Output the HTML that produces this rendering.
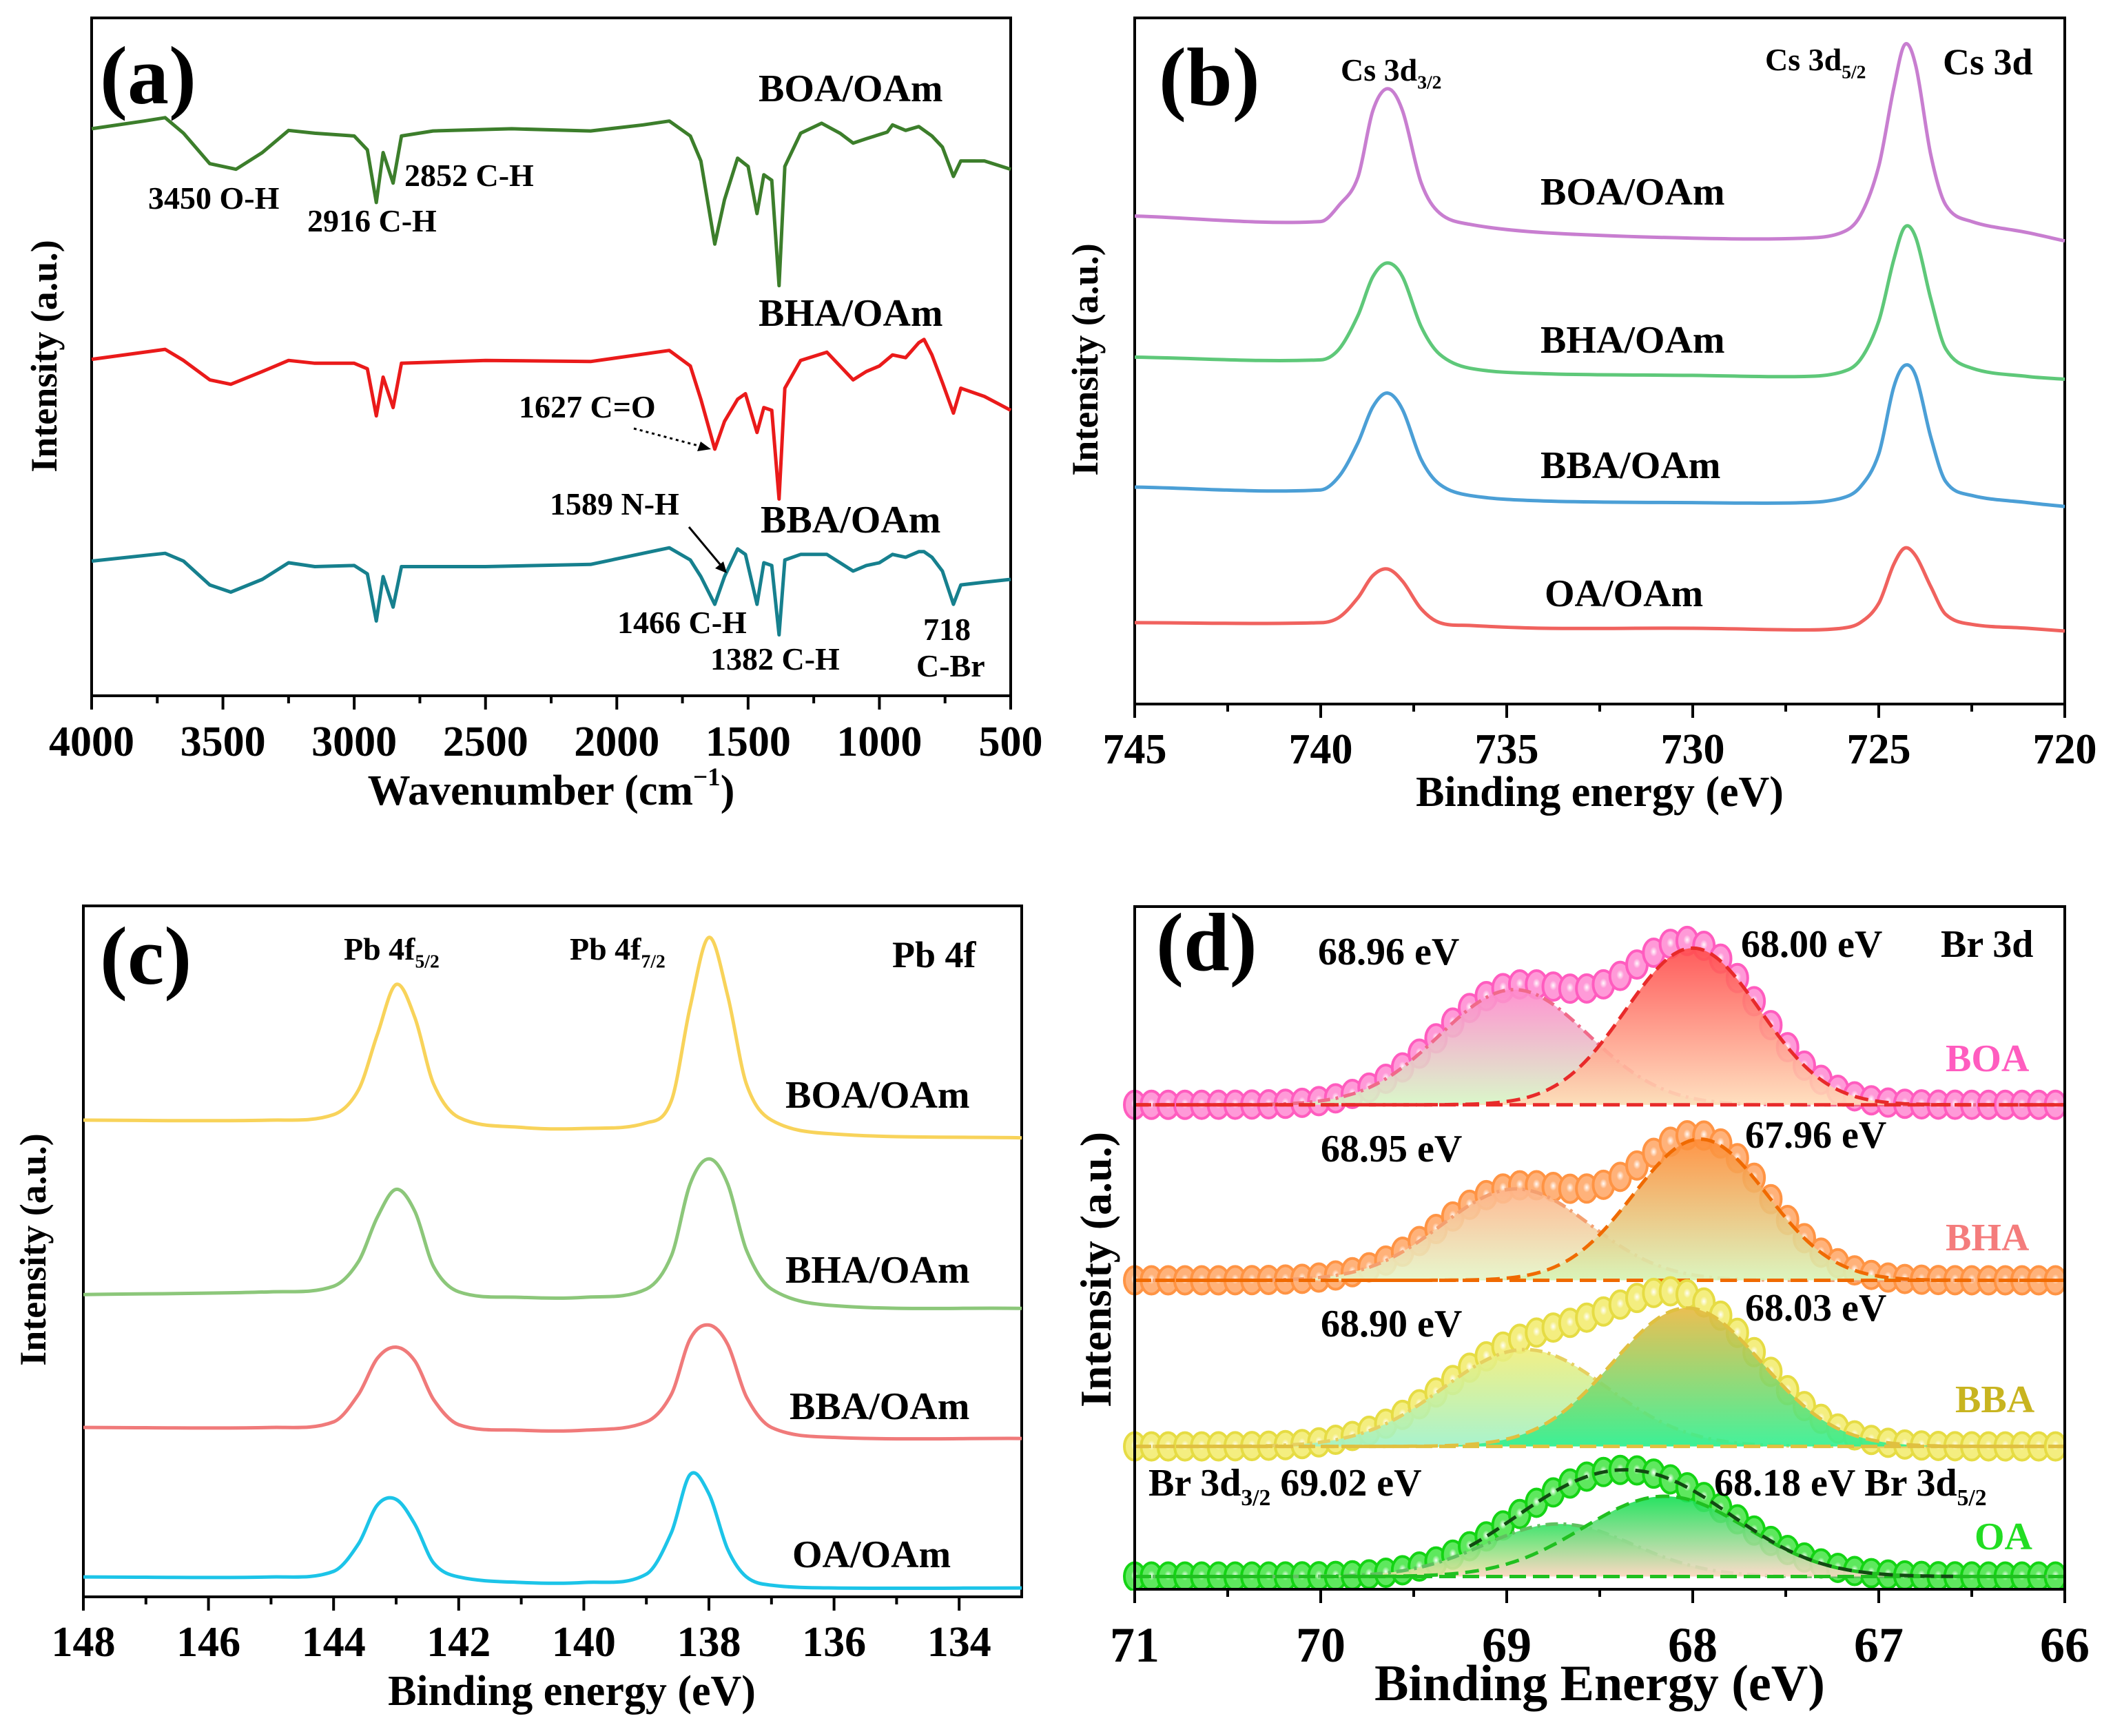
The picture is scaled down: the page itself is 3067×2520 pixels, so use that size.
<!DOCTYPE html>
<html><head><meta charset="utf-8"><style>
html,body{margin:0;padding:0;background:#fff;}
svg{display:block;font-family:"Liberation Serif",serif;font-weight:bold;}
</style></head><body>
<svg id="fig" width="3067" height="2520" viewBox="0 0 3067 2520" xmlns="http://www.w3.org/2000/svg">
<defs id="defs"></defs>
</svg>
<script>
// ---------- Panel (a) FTIR data ----------
const wnBOA = [4000,3800,3720,3650,3550,3450,3350,3250,3150,3000,2950,2916,2890,2852,2820,2700,2400,2100,1900,1800,1720,1680,1627,1590,1540,1500,1466,1440,1410,1382,1360,1300,1220,1150,1100,1050,970,950,900,850,800,760,718,690,600,500];
const irBOA = [106.8,108.2,108.8,106,100.5,99.5,102.5,106.5,106,105.5,103,93.5,102.5,97,105.5,106.4,106.8,106.4,107.5,108.2,105.5,101,86,94,101.5,100,91.5,98.5,97.5,78.5,100,106,107.8,106,104.2,105,106.2,107.5,106.5,107.2,105.5,103.5,98.2,101,101,99.5];
const wnB = [4000,3720,3650,3550,3470,3350,3250,3150,3000,2950,2916,2890,2852,2820,2500,2100,1800,1720,1680,1627,1590,1540,1510,1466,1440,1410,1382,1360,1300,1200,1150,1100,1050,1000,950,900,850,830,800,760,718,690,600,500];
const irBHA = [65.2,67,65,61.5,60.7,63,65,64.5,64.5,63.5,55,62,56.5,64.5,65,64.8,66.8,64,58,49,54,58,59,52,56.5,56,40,60,65,66.5,64,61.5,63,64,66,65.5,68.2,68.8,66,61,55.5,60,58.5,56];
const irBBA = [28.8,30.2,28.8,24.5,23.2,25.5,28.5,27.8,28,26.5,18,26,20.5,27.8,27.8,28.2,31.2,29,26,21,26,31,30,21,28.5,28,15.5,29,30,30,28.5,27,28,28.5,30,29.5,30.5,30.5,29.5,27,21,24.5,25,25.5];
const aTicks = [4000,3500,3000,2500,2000,1500,1000,500];

// ---------- Panel (b) Cs 3d ----------
const eB = [745,740,739.5,739,738.6,738.2,737.8,737.3,736.8,736,734,730,727,726,725.5,725,724.6,724.3,724.0,723.6,723.2,722.5,721,720];
const csBOA = [91,90,93,98,110,114,110,97,91.5,89.5,88,87,87,88,91,100,114,122,118,102,93,90,88,86.5];
const csBHA = [65.5,65,67,73,80,82.5,80,71,66,63.5,62.5,62.2,62,62.8,65,72,83,89,87,76,67,63.5,62,61.5];
const csBBA = [42,41.5,44,50,56.5,59,56,47,42.5,40.5,39.5,39.2,39.2,40,42,48,60,64,62,51,43,40.5,39.2,38.5];
const csOA = [17.5,17.5,18.5,22,26,27.2,25,20,17.5,17,16.5,16.5,16.2,16.5,17.5,21,28,31,29.5,24,19,17.2,16.5,16];
const bTicks = [745,740,735,730,725,720];

// ---------- Panel (c) Pb 4f ----------
const eC = [148,145,144,143.6,143.3,143.0,142.7,142.4,142.0,141,140,139,138.6,138.3,138.0,137.7,137.4,137,136,133];
const pbBOA = [94.5,94.5,95.5,100,110,119,113,101,95,93.2,93,94,98,115,127.5,117,101,94.5,92,91.3];
const pbBHA = [63,63.5,64.5,69,77,82,78,68,63.5,62.5,62.5,64,70,83,87.5,83,71,64,61,60.5];
const pbBBA = [39,39,40,45,51.5,53.5,51,44,39.5,38.5,38.5,40,45,55,57.5,54,44.5,39,37.2,37];
const pbOA = [12,12,13,18,25,26,21.5,14.5,12,11,11,12.5,20,30.5,27,17,12,10.5,10,10];
const cTicks = [148,146,144,142,140,138,136,134];

// ---------- Panel (d) Br 3d fit parameters ----------
const dSamples = ["BOA","BHA","BBA","OA"];
const dBase = [97.2,65.5,35.5,12];
const dC1 = [68.96,68.95,68.90,68.72];
const dH1 = [20.8,16.5,17.5,9.5];
const dS1 = [0.40,0.40,0.44,0.40];
const dC2 = [68.00,67.96,68.03,68.15];
const dH2 = [28.3,25.5,25,14.5];
const dS2 = [0.36,0.36,0.40,0.44];
const dTicks = [71,70,69,68,67,66];

const NS="http://www.w3.org/2000/svg";
const svg=document.getElementById('fig');
const defs=document.getElementById('defs');
function mk(tag, attrs, name, parent){
  const el=document.createElementNS(NS,tag);
  for(const k in attrs) el.setAttribute(k,attrs[k]);
  
  
  (parent||svg).appendChild(el);
  return el;
}
function txt(x,y,s,size,name,opts){
  opts=opts||{};
  const t=mk('text',{x:x,y:y,'font-size':size,fill:opts.fill||'#000','text-anchor':opts.anchor||'start'},name);
  if(opts.rot) t.setAttribute('transform','rotate(-90 '+x+' '+y+')');
  if(opts.sub){
    t.appendChild(document.createTextNode(s));
    const ts=document.createElementNS(NS,'tspan');
    ts.setAttribute('font-size',size*0.6);ts.setAttribute('dy',size*0.25);
    ts.textContent=opts.sub;t.appendChild(ts);
    if(opts.after){const ts2=document.createElementNS(NS,'tspan');ts2.setAttribute('dy',-size*0.25);ts2.textContent=opts.after;t.appendChild(ts2);}
  } else if(opts.sup){
    t.appendChild(document.createTextNode(s));
    const ts=document.createElementNS(NS,'tspan');
    ts.setAttribute('font-size',size*0.6);ts.setAttribute('dy',-size*0.45);
    ts.textContent=opts.sup;t.appendChild(ts);
    const ts2=document.createElementNS(NS,'tspan');ts2.setAttribute('dy',size*0.45);ts2.textContent=opts.after;t.appendChild(ts2);
  } else t.textContent=s;
  return t;
}
function scale(d0,d1,r0,r1){return v=>r0+(v-d0)/(d1-d0)*(r1-r0);}
function frame(L,T,R,B,name){
  mk('rect',{x:L,y:T,width:R-L,height:B-T,fill:'none',stroke:'#000','stroke-width':4},name);
}
function xaxis(ticks,xs,B,fs,ly,name,minor){
  ticks.forEach((t,i)=>{
    mk('line',{x1:xs(t),x2:xs(t),y1:B,y2:B+20,stroke:'#000','stroke-width':4},name+'-tick');
    txt(xs(t),ly,String(t),fs,name+'-tick-label',{anchor:'middle'});
    if(minor && i<ticks.length-1){
      const m=(t+ticks[i+1])/2;
      mk('line',{x1:xs(m),x2:xs(m),y1:B,y2:B+11,stroke:'#000','stroke-width':4},name+'-minor-tick');
    }
  });
}
// Hermite-smoothed path (no loops): slopes from neighbouring points
function line(xsArr,ysArr,xs,ys,color,name,w,smooth){
  const P=xsArr.map((x,i)=>[xs(x),ys(ysArr[i])]);
  const n=P.length;
  const m=P.map((p,i)=>{
    if(!smooth) return 0;
    const a=P[Math.max(0,i-1)],b=P[Math.min(n-1,i+1)];
    return (b[1]-a[1])/(b[0]-a[0]);
  });
  let d='M'+P[0][0].toFixed(1)+','+P[0][1].toFixed(1);
  for(let i=0;i<n-1;i++){
    const p1=P[i],p2=P[i+1],dx=p2[0]-p1[0];
    if(!smooth){d+=' L'+p2[0].toFixed(1)+','+p2[1].toFixed(1);continue;}
    const c1=[p1[0]+dx/3,p1[1]+m[i]*dx/3];
    const c2=[p2[0]-dx/3,p2[1]-m[i+1]*dx/3];
    d+=' C'+c1[0].toFixed(1)+','+c1[1].toFixed(1)+' '+c2[0].toFixed(1)+','+c2[1].toFixed(1)+' '+p2[0].toFixed(1)+','+p2[1].toFixed(1);
  }
  return mk('path',{d:d,fill:'none',stroke:color,'stroke-width':w||5,'stroke-linejoin':'round'},name);
}

// ===== Panel a =====
{
  const L=133,R=1467,T=26,B=1010;
  const xs=scale(4000,500,L,R), ys=scale(4.5,126.8,B,T);
  frame(L,T,R,B,'panel-a-frame');
  line(wnBOA,irBOA,xs,ys,'#3c7e2b','ftir-boa-line',5,false);
  line(wnB,irBHA,xs,ys,'#ea1a1a','ftir-bha-line',5,false);
  line(wnB,irBBA,xs,ys,'#16808e','ftir-bba-line',5,false);
  xaxis(aTicks,xs,B,62,1097,'x-axis-a',true);
  txt(800,1168,'Wavenumber (cm',62,'x-axis-title-a',{anchor:'middle',sup:'−1',after:')'});
  txt(82,517,'Intensity (a.u.)',54,'y-axis-title-a',{anchor:'middle',rot:true});
  txt(145,150,'(a)',120,'panel-label-a');
  txt(1101,147,'BOA/OAm',56,'label-boa-a');
  txt(1101,473,'BHA/OAm',56,'label-bha-a');
  txt(1104,773,'BBA/OAm',56,'label-bba-a');
  txt(215,303,'3450 O-H',46,'annot-3450');
  txt(446,336,'2916 C-H',46,'annot-2916');
  txt(587,270,'2852 C-H',46,'annot-2852');
  txt(753,606,'1627 C=O',46,'annot-1627');
  txt(798,747,'1589 N-H',46,'annot-1589');
  txt(896,919,'1466 C-H',46,'annot-1466');
  txt(1031,972,'1382 C-H',46,'annot-1382');
  txt(1340,929,'718',46,'annot-718');
  txt(1330,982,'C-Br',46,'annot-c-br');
  mk('line',{x1:920,y1:622,x2:1025,y2:650,stroke:'#000','stroke-width':3,'stroke-dasharray':'4,5'},'arrow-1627');
  mk('polygon',{points:'1032,652 1012,655 1017,641'},'arrow-head-1627');
  mk('line',{x1:1000,y1:765,x2:1050,y2:825,stroke:'#000','stroke-width':3},'arrow-1589');
  mk('polygon',{points:'1055,832 1038,825 1050,815'},'arrow-head-1589');
}
// ===== Panel b =====
{
  const L=1647,R=2997,T=26,B=1022;
  const xs=scale(745,720,L,R), ys=scale(2.8,126.8,B,T);
  frame(L,T,R,B,'panel-b-frame');
  line(eB,csBOA,xs,ys,'#c87ed0','cs-boa-line',5,true);
  line(eB,csBHA,xs,ys,'#5ec879','cs-bha-line',5,true);
  line(eB,csBBA,xs,ys,'#4b9fd6','cs-bba-line',5,true);
  line(eB,csOA,xs,ys,'#f0625e','cs-oa-line',5,true);
  xaxis(bTicks,xs,B,62,1108,'x-axis-b',true);
  txt(2322,1170,'Binding energy (eV)',62,'x-axis-title-b',{anchor:'middle'});
  txt(1593,522,'Intensity (a.u.)',54,'y-axis-title-b',{anchor:'middle',rot:true});
  txt(1682,152,'(b)',120,'panel-label-b');
  txt(1946,117,'Cs 3d',46,'peak-label-cs3d32',{sub:'3/2'});
  txt(2562,102,'Cs 3d',46,'peak-label-cs3d52',{sub:'5/2'});
  txt(2820,108,'Cs 3d',54,'title-cs3d');
  txt(2236,297,'BOA/OAm',56,'label-boa-b');
  txt(2236,512,'BHA/OAm',56,'label-bha-b');
  txt(2236,694,'BBA/OAm',56,'label-bba-b');
  txt(2242,880,'OA/OAm',56,'label-oa-b');
}
// ===== Panel c =====
{
  const L=121,R=1483,T=1315,B=2318;
  const xs=scale(148,133,L,R), ys=scale(8.4,133.2,B,T);
  frame(L,T,R,B,'panel-c-frame');
  line(eC,pbBOA,xs,ys,'#f8d35a','pb-boa-line',5,true);
  line(eC,pbBHA,xs,ys,'#8cc77a','pb-bha-line',5,true);
  line(eC,pbBBA,xs,ys,'#f07a7a','pb-bba-line',5,true);
  line(eC,pbOA,xs,ys,'#1cc4e8','pb-oa-line',5,true);
  xaxis(cTicks,xs,B,62,2404,'x-axis-c',true);
  txt(830,2475,'Binding energy (eV)',62,'x-axis-title-c',{anchor:'middle'});
  txt(66,1814,'Intensity (a.u.)',54,'y-axis-title-c',{anchor:'middle',rot:true});
  txt(145,1428,'(c)',120,'panel-label-c');
  txt(499,1393,'Pb 4f',46,'peak-label-pb4f52',{sub:'5/2'});
  txt(827,1393,'Pb 4f',46,'peak-label-pb4f72',{sub:'7/2'});
  txt(1295,1404,'Pb 4f',54,'title-pb4f');
  txt(1140,1608,'BOA/OAm',56,'label-boa-c');
  txt(1140,1862,'BHA/OAm',56,'label-bha-c');
  txt(1146,2060,'BBA/OAm',56,'label-bba-c');
  txt(1150,2275,'OA/OAm',56,'label-oa-c');
}
// ===== Panel d =====
{
  const L=1647,R=2997,T=1316,B=2307;
  const xs=scale(71,66,L,R), ys=scale(9.7,133,B,T);
  const circStroke=['#ff5cbf','#ff9444','#e6dc44','#14d414'];
  const circFill=['#ff9ad8','#ffb27a','#f4ee80','#5ee85e'];
  const g1Top=['#ff88cc','#ffb489','#f0ee7a','#2fe060'];
  const g1Bot=['#d6f6c4','#e4f6c8','#9ff2c8','#f2e2a8'];
  const g2Top=['#ff4a4a','#ff8a34','#e8b840','#10e050'];
  const g2Bot=['#ffdcb8','#d8f4b8','#30f090','#fcd8c4'];
  const l1=['#f06a8a','#f4a070','#e6d060','#60c060'];
  const l2=['#e82a2a','#f06a00','#e0c040','#20c020'];
  const gauss=(e,c,h,s)=>h*Math.exp(-((e-c)*(e-c))/(2*s*s));
  const rg=mk('radialGradient',{id:'hl',cx:'0.5',cy:'0.45',r:'0.5'},'highlight-gradient',defs);
  mk('stop',{offset:'0','stop-color':'#fff','stop-opacity':'0.95'},'stop',rg);
  mk('stop',{offset:'0.45','stop-color':'#fff','stop-opacity':'0'},'stop',rg);
  dSamples.forEach((nm,i)=>{
    ['1','2'].forEach((k,j)=>{
      const lg=mk('linearGradient',{id:'g'+k+nm,x1:0,y1:0,x2:0,y2:1},'gradient-'+nm+'-'+k,defs);
      mk('stop',{offset:'0','stop-color':j?g2Top[i]:g1Top[i]},'stop',lg);
      mk('stop',{offset:'1','stop-color':j?g2Bot[i]:g1Bot[i]},'stop',lg);
    });
    for(let e=71;e>=65.99;e-=0.09){
      const v=dBase[i]+gauss(e,dC1[i],dH1[i],dS1[i])+gauss(e,dC2[i],dH2[i],dS2[i]);
      mk('ellipse',{cx:xs(e),cy:ys(v),rx:15,ry:20,fill:circFill[i],stroke:circStroke[i],'stroke-width':4},'data-point-'+nm.toLowerCase());
      mk('ellipse',{cx:xs(e),cy:ys(v),rx:12,ry:16,fill:'url(#hl)'},'data-point-highlight');
    }
    const comps=[[dC1[i],dH1[i],dS1[i],'1',l1[i],'18,8,4,8'],[dC2[i],dH2[i],dS2[i],'2',l2[i],'20,10']];
    comps.forEach(cp=>{
      let pts=[];
      for(let e=71;e>=66;e-=0.02){pts.push(xs(e).toFixed(1)+','+ys(dBase[i]+gauss(e,cp[0],cp[1],cp[2])).toFixed(1));}
      mk('polygon',{points:pts.join(' ')+' '+xs(66)+','+ys(dBase[i])+' '+xs(71)+','+ys(dBase[i]),fill:'url(#g'+cp[3]+nm+')','fill-opacity':0.9},'fit-peak-'+cp[3]+'-'+nm.toLowerCase());
      mk('polyline',{points:pts.join(' '),fill:'none',stroke:cp[4],'stroke-width':5,'stroke-dasharray':cp[5]},'fit-line-'+cp[3]+'-'+nm.toLowerCase());
    });
    mk('line',{x1:L,x2:R,y1:ys(dBase[i]),y2:ys(dBase[i]),stroke:l2[i],'stroke-width':5,'stroke-dasharray':'24,10'},'baseline-'+nm.toLowerCase());
  });
  {
    let pts=[];const i=3;
    for(let e=69.2;e>=66.6;e-=0.02){pts.push(xs(e).toFixed(1)+','+ys(dBase[i]+gauss(e,dC1[i],dH1[i],dS1[i])+gauss(e,dC2[i],dH2[i],dS2[i])).toFixed(1));}
    mk('polyline',{points:pts.join(' '),fill:'none',stroke:'#124a12','stroke-width':5,'stroke-dasharray':'20,10'},'fit-envelope-oa');
  }
  mk('rect',{x:L-30,y:B+2,width:R-L+60,height:60,fill:'#fff'},'bottom-mask');
  mk('rect',{x:R+2,y:T-10,width:60,height:B-T+20,fill:'#fff'},'right-mask');
  frame(L,T,R,B,'panel-d-frame');
  xaxis(dTicks,xs,B,72,2412,'x-axis-d',true);
  txt(2322,2468,'Binding Energy (eV)',74,'x-axis-title-d',{anchor:'middle'});
  txt(1612,1843,'Intensity (a.u.)',64,'y-axis-title-d',{anchor:'middle',rot:true});
  txt(1678,1408,'(d)',120,'panel-label-d');
  txt(1913,1400,'68.96 eV',56,'fit-label-boa-1');
  txt(2527,1389,'68.00 eV',56,'fit-label-boa-2');
  txt(2817,1389,'Br 3d',56,'title-br3d');
  txt(2824,1555,'BOA',56,'label-boa-d',{fill:'#ff5cbf'});
  txt(1917,1686,'68.95 eV',56,'fit-label-bha-1');
  txt(2533,1666,'67.96 eV',56,'fit-label-bha-2');
  txt(2824,1815,'BHA',56,'label-bha-d',{fill:'#f47c7c'});
  txt(1917,1940,'68.90 eV',56,'fit-label-bba-1');
  txt(2533,1917,'68.03 eV',56,'fit-label-bba-2');
  txt(2838,2050,'BBA',56,'label-bba-d',{fill:'#c8b420'});
  txt(1667,2171,'Br 3d',56,'label-br3d32',{sub:'3/2',after:' 69.02 eV'});
  txt(2488,2171,'68.18 eV Br 3d',56,'label-br3d52',{sub:'5/2'});
  txt(2866,2249,'OA',56,'label-oa-d',{fill:'#22dd22'});
}
</script>
</body></html>
